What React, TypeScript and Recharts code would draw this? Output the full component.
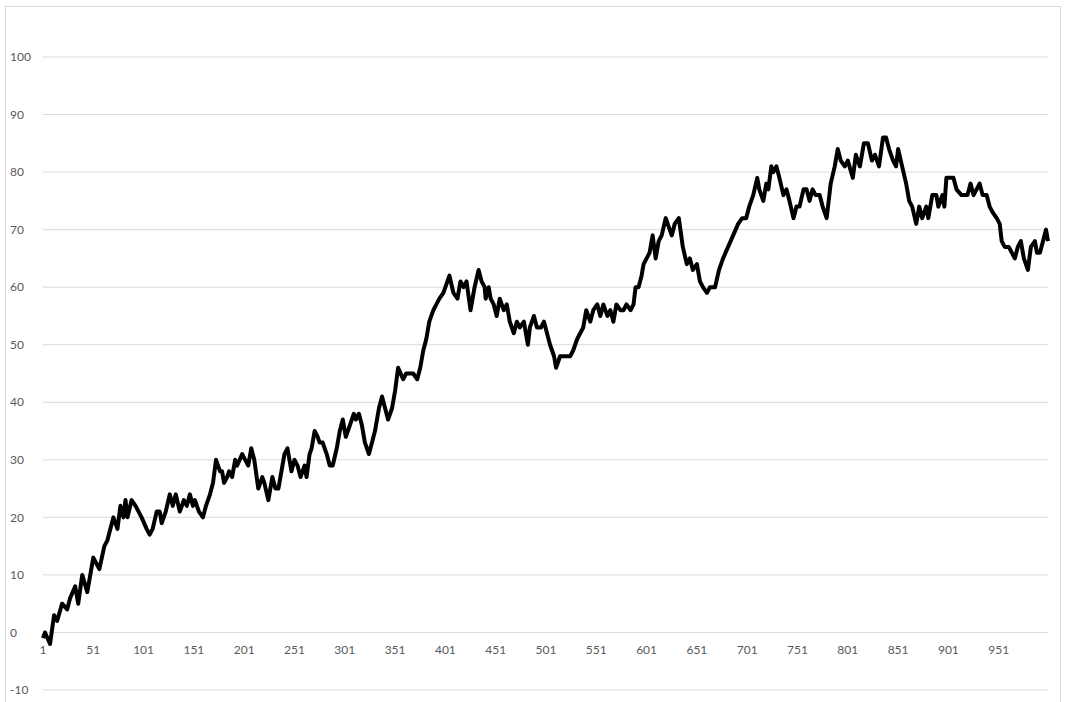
import { LineChart, Line, XAxis, YAxis, CartesianGrid } from "recharts";

// step index along the walk (x) and the value at that step
const STEPS = [
  1, 3, 8, 12, 15, 20, 25, 28, 33, 36, 40, 45, 51, 57, 62, 65, 71, 75, 78, 81,
  83, 85, 89, 93, 96, 99, 104, 107, 110, 114, 117, 119, 123, 127, 130, 133, 137, 141, 144, 147,
  150, 152, 156, 160, 163, 167, 170, 173, 177, 179, 181, 184, 186, 189, 192, 194, 199, 202, 205, 208,
  211, 215, 219, 221, 225, 229, 232, 235, 241, 244, 248, 251, 254, 257, 261, 263, 266, 268, 271, 274,
  276, 279, 283, 286, 289, 293, 296, 299, 302, 306, 310, 312, 315, 318, 321, 325, 328, 331, 335, 338,
  341, 344, 348, 351, 354, 359, 362, 365, 369, 373, 376, 379, 382, 385, 389, 392, 395, 399, 401, 405,
  409, 413, 416, 419, 422, 426, 430, 434, 437, 440, 441, 444, 446, 449, 452, 455, 459, 462, 465, 469,
  472, 475, 479, 483, 485, 489, 492, 496, 499, 502, 505, 509, 511, 515, 519, 522, 525, 528, 532, 535,
  538, 541, 545, 548, 552, 555, 558, 562, 565, 568, 571, 575, 578, 581, 585, 588, 590, 593, 596, 598,
  601, 604, 607, 610, 613, 616, 620, 622, 626, 629, 633, 637, 641, 644, 647, 651, 654, 657, 661, 664,
  669, 673, 677, 682, 687, 692, 696, 700, 703, 707, 711, 713, 717, 720, 722, 725, 727, 730, 733, 737,
  740, 743, 747, 750, 753, 757, 760, 763, 766, 769, 773, 776, 780, 784, 788, 791, 794, 798, 801, 806,
  809, 813, 817, 821, 825, 828, 832, 836, 839, 842, 846, 849, 851, 855, 859, 862, 865, 869, 872, 875,
  879, 881, 885, 889, 891, 895, 897, 899, 903, 906, 909, 914, 917, 920, 923, 926, 929, 932, 935, 939,
  942, 945, 949, 952, 954, 957, 961, 964, 967, 970, 973, 976, 980, 983, 987, 989, 992, 995, 998, 1000,
];

const VALUES = [
  -1, 0, -2, 3, 2, 5, 4, 6, 8, 5, 10, 7, 13, 11, 15, 16, 20, 18, 22, 20,
  23, 20, 23, 22, 21, 20, 18, 17, 18, 21, 21, 19, 21, 24, 22, 24, 21, 23, 22, 24,
  22, 23, 21, 20, 22, 24, 26, 30, 28, 28, 26, 27, 28, 27, 30, 29, 31, 30, 29, 32,
  30, 25, 27, 26, 23, 27, 25, 25, 31, 32, 28, 30, 29, 27, 29, 27, 31, 32, 35, 34,
  33, 33, 31, 29, 29, 32, 35, 37, 34, 36, 38, 37, 38, 36, 33, 31, 33, 35, 39, 41,
  39, 37, 39, 42, 46, 44, 45, 45, 45, 44, 46, 49, 51, 54, 56, 57, 58, 59, 60, 62,
  59, 58, 61, 60, 61, 56, 60, 63, 61, 60, 58, 60, 58, 57, 55, 58, 56, 57, 54, 52,
  54, 53, 54, 50, 53, 55, 53, 53, 54, 52, 50, 48, 46, 48, 48, 48, 48, 49, 51, 52,
  53, 56, 54, 56, 57, 55, 57, 55, 56, 54, 57, 56, 56, 57, 56, 57, 60, 60, 62, 64,
  65, 66, 69, 65, 68, 69, 72, 71, 69, 71, 72, 67, 64, 65, 63, 64, 61, 60, 59, 60,
  60, 63, 65, 67, 69, 71, 72, 72, 74, 76, 79, 77, 75, 78, 77, 81, 80, 81, 79, 76,
  77, 75, 72, 74, 74, 77, 77, 75, 77, 76, 76, 74, 72, 78, 81, 84, 82, 81, 82, 79,
  83, 81, 85, 85, 82, 83, 81, 86, 86, 84, 82, 81, 84, 81, 78, 75, 74, 71, 74, 72,
  74, 72, 76, 76, 74, 76, 74, 79, 79, 79, 77, 76, 76, 76, 78, 76, 77, 78, 76, 76,
  74, 73, 72, 71, 68, 67, 67, 66, 65, 67, 68, 65, 63, 67, 68, 66, 66, 68, 70, 68,
];

const X_TICKS = [1, 51, 101, 151, 201, 251, 301, 351, 401, 451, 501, 551, 601, 651, 701, 751, 801, 851, 901, 951];
const Y_TICKS = [-10, 0, 10, 20, 30, 40, 50, 60, 70, 80, 90, 100];

const data = STEPS.map((step, i) => ({ step, value: VALUES[i] }));

const FONT = "Lato, 'Open Sans', sans-serif";

function YTick(props: any) {
  const { y, payload } = props;
  return (
    <text x={10} y={y} dy="0.35em" textAnchor="start" fill="#595959" fontSize={12} fontFamily={FONT}>
      {payload.value}
    </text>
  );
}

// Excel puts the category labels just under the zero line
function XTick(props: any) {
  const { x, payload } = props;
  return (
    <text x={x} y={654} textAnchor="middle" fill="#595959" fontSize={12} fontFamily={FONT}>
      {payload.value}
    </text>
  );
}

export default function App() {
  return (
    <div style={{ position: "absolute", left: 0, top: 0, width: 1065, height: 702, background: "#fff", overflow: "hidden" }}>
      <div
        style={{
          position: "absolute",
          left: 5,
          top: 6,
          width: 1054,
          height: 710,
          border: "1px solid #d9d9d9",
        }}
      />
      <LineChart width={1065} height={702} data={data} margin={{ top: 57, right: 17, bottom: 0, left: 0 }}>
        <CartesianGrid vertical={false} stroke="#d9d9d9" strokeWidth={1} />
        <XAxis
          dataKey="step"
          type="number"
          domain={[1, 1000]}
          ticks={X_TICKS}
          interval={0}
          tick={<XTick />}
          tickLine={false}
          axisLine={false}
          height={12}
        />
        <YAxis
          type="number"
          domain={[-10, 100]}
          ticks={Y_TICKS}
          interval={0}
          tick={<YTick />}
          tickLine={false}
          axisLine={false}
          width={43}
        />
        <Line
          type="linear"
          dataKey="value"
          stroke="#000"
          strokeWidth={4}
          strokeLinejoin="round"
          dot={false}
          isAnimationActive={false}
        />
      </LineChart>
    </div>
  );
}
